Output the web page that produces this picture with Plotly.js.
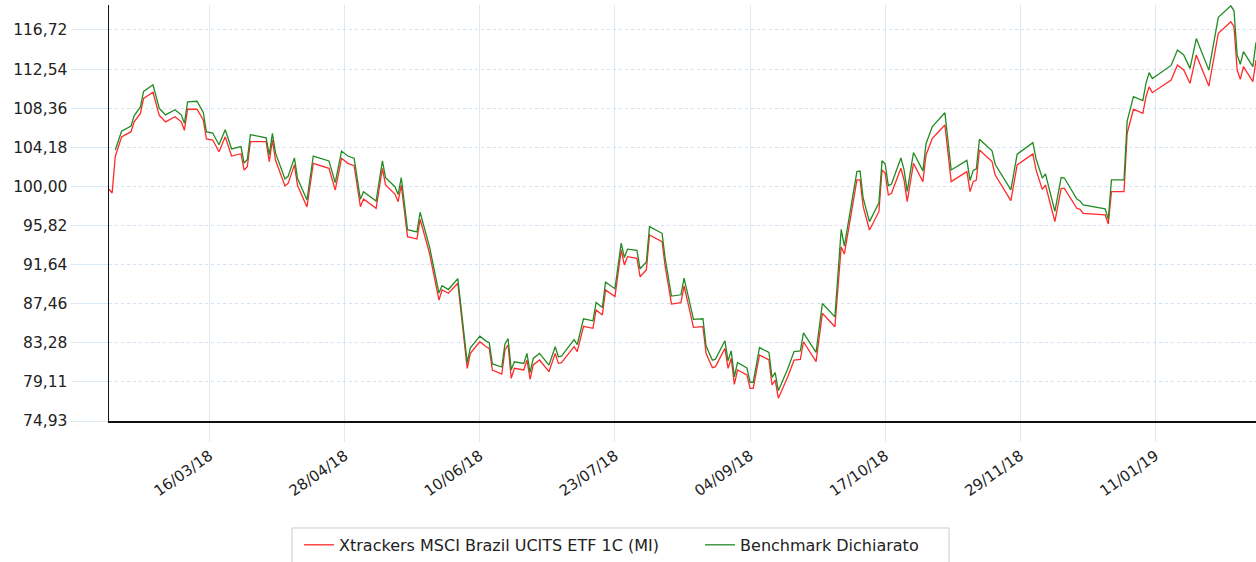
<!DOCTYPE html>
<html>
<head>
<meta charset="utf-8">
<script src="https://cdn.plot.ly/plotly-3.0.1.min.js"></script>
<style>
html,body{margin:0;padding:0;background:#fff;}
#chart{width:1256px;height:562px;}
</style>
</head>
<body>
<div id="chart"></div>
<script>
// ---- data ----
const dates = [
'2018-02-12','2018-02-13','2018-02-14','2018-02-16','2018-02-19','2018-02-20','2018-02-22','2018-02-23','2018-02-26','2018-02-28',
'2018-03-02','2018-03-05','2018-03-07','2018-03-08','2018-03-09','2018-03-12','2018-03-14','2018-03-15','2018-03-17','2018-03-19',
'2018-03-21','2018-03-23','2018-03-26','2018-03-27','2018-03-28','2018-03-29','2018-04-03','2018-04-04','2018-04-05','2018-04-06',
'2018-04-09','2018-04-10','2018-04-12','2018-04-13','2018-04-16','2018-04-18','2018-04-23','2018-04-25','2018-04-27','2018-04-29',
'2018-05-01','2018-05-03','2018-05-04','2018-05-08','2018-05-10','2018-05-11','2018-05-14','2018-05-15','2018-05-16','2018-05-18',
'2018-05-21','2018-05-22','2018-05-25','2018-05-28','2018-05-29','2018-05-31','2018-06-03','2018-06-06','2018-06-07','2018-06-10',
'2018-06-12','2018-06-13','2018-06-14','2018-06-17','2018-06-18','2018-06-19','2018-06-20','2018-06-21','2018-06-24','2018-06-25',
'2018-06-26','2018-06-27','2018-06-29','2018-07-02','2018-07-04','2018-07-05','2018-07-06','2018-07-10','2018-07-11','2018-07-13',
'2018-07-16','2018-07-17','2018-07-19','2018-07-20','2018-07-23','2018-07-25','2018-07-26','2018-07-27','2018-07-30','2018-07-31',
'2018-08-02','2018-08-03','2018-08-07','2018-08-08','2018-08-10','2018-08-13','2018-08-14','2018-08-15','2018-08-17','2018-08-20',
'2018-08-21','2018-08-23','2018-08-24','2018-08-27','2018-08-28','2018-08-29','2018-08-30','2018-08-31','2018-09-03','2018-09-04',
'2018-09-05','2018-09-07','2018-09-10','2018-09-11','2018-09-12','2018-09-13','2018-09-16','2018-09-18','2018-09-20','2018-09-21',
'2018-09-25','2018-09-27','2018-10-01','2018-10-03','2018-10-04','2018-10-08','2018-10-09','2018-10-10','2018-10-12','2018-10-15',
'2018-10-16','2018-10-17','2018-10-18','2018-10-19','2018-10-22','2018-10-23','2018-10-24','2018-10-26','2018-10-29','2018-10-30',
'2018-11-01','2018-11-05','2018-11-07','2018-11-12','2018-11-13','2018-11-14','2018-11-15','2018-11-16','2018-11-20','2018-11-21',
'2018-11-26','2018-11-28','2018-12-03','2018-12-04','2018-12-06','2018-12-07','2018-12-10','2018-12-12','2018-12-13','2018-12-17',
'2018-12-18','2018-12-19','2018-12-26','2018-12-27','2018-12-28','2019-01-01','2019-01-02','2019-01-04','2019-01-07','2019-01-08',
'2019-01-09','2019-01-10','2019-01-14','2019-01-16','2019-01-18','2019-01-20','2019-01-22','2019-01-24','2019-01-28','2019-01-31',
'2019-02-04','2019-02-05','2019-02-06','2019-02-07','2019-02-08','2019-02-11','2019-02-12'
];

const etfValues = [
99.7,99.3,103.2,105.3,105.85,106.9,107.8,109.4,110.06,107.6,
106.9,107.45,106.9,106.0,108.25,108.25,107.1,105.07,104.96,103.7,
105.3,103.25,103.5,101.75,102.1,104.78,104.78,102.65,104.96,102.8,
100.05,100.33,102.3,100.1,97.8,102.47,101.94,99.62,103.0,102.47,
102.22,97.84,98.66,97.66,101.94,100.15,99.19,98.37,100.15,94.63,
94.38,96.49,92.85,87.86,88.93,88.58,89.65,80.56,82.16,83.4,
82.87,82.7,80.38,79.95,82.52,83.05,79.49,80.56,80.38,81.45,
79.39,80.92,81.45,80.2,82.16,81.09,81.16,82.87,82.34,85.05,
84.84,86.8,86.26,88.93,88.22,93.21,91.6,92.49,92.32,90.35,
91.07,94.81,94.09,91.42,87.43,87.57,89.36,87.86,84.94,85.01,
82.16,80.63,80.74,82.7,80.56,81.63,78.85,80.38,79.85,78.42,
78.42,81.98,81.45,78.78,79.31,77.35,79.67,81.45,81.52,83.4,
81.27,86.44,85.01,93.56,92.77,100.69,100.69,97.84,95.34,97.3,
101.76,101.4,99.08,99.26,101.94,100.69,98.37,102.47,100.51,103.36,
105.14,106.57,100.51,101.58,99.44,100.51,100.69,103.9,102.65,101.22,
98.48,102.29,103.47,101.76,99.69,100.15,96.23,99.8,99.8,97.66,
97.55,97.13,96.95,95.98,99.44,99.44,105.68,108.25,107.82,109.59,
110.66,110.02,110.92,111.38,112.98,112.45,111.02,114.05,110.73,116.37,
117.6,117.07,112.45,111.45,112.8,111.2,113.5
];

const benchValues = [
null,null,103.9,105.9,106.45,107.55,108.5,110.15,110.86,108.35,
107.65,108.2,107.65,106.75,109.05,109.1,107.9,105.82,105.71,104.45,
106.05,104.0,104.25,102.5,102.85,105.53,105.2,103.4,105.66,103.55,
100.8,101.08,103.05,100.85,98.55,103.25,102.72,100.4,103.78,103.25,
103.02,98.62,99.44,98.44,102.74,100.93,99.97,99.15,100.95,95.38,
95.13,97.24,93.55,88.6,89.4,88.98,90.15,81.16,82.76,84.0,
83.47,83.3,81.03,80.7,83.17,83.75,80.4,81.26,81.08,82.15,
80.09,81.62,82.15,80.9,82.86,81.79,81.86,83.62,83.09,85.85,
85.64,87.6,87.06,89.78,89.07,93.95,92.4,93.29,93.17,91.2,
91.92,95.71,94.99,92.27,88.28,88.42,90.21,88.71,85.79,85.86,
82.96,81.43,81.54,83.5,81.36,82.43,79.65,81.18,80.6,79.07,
79.07,82.78,82.25,79.58,80.11,78.15,80.52,82.35,82.42,84.35,
82.27,87.49,86.06,95.4,93.63,101.59,101.64,98.74,96.24,98.25,
102.76,102.4,100.08,100.26,103.04,101.79,99.47,103.62,101.66,104.56,
106.39,107.87,101.76,102.78,100.64,101.71,101.89,105.05,103.8,102.37,
99.63,103.44,104.67,102.96,100.89,101.35,97.33,100.95,100.9,98.66,
98.45,98.03,97.6,96.48,100.69,100.69,106.98,109.6,109.17,111.04,
112.16,111.52,112.47,112.93,114.58,114.05,112.62,115.8,112.43,118.07,
119.3,118.77,114.05,113.05,114.4,112.8,115.4
];

const seriesNames = ['Xtrackers MSCI Brazil UCITS ETF 1C (MI)', 'Benchmark Dichiarato'];

const xTickVals = ['2018-03-16','2018-04-28','2018-06-10','2018-07-23','2018-09-04','2018-10-17','2018-11-29','2019-01-11'];
const xTickText = ['16/03/18','28/04/18','10/06/18','23/07/18','04/09/18','17/10/18','29/11/18','11/01/19'];
const yTickVals = [74.93,79.11,83.28,87.46,91.64,95.82,100.00,104.18,108.36,112.54,116.72];
const yTickText = ['74,93','79,11','83,28','87,46','91,64','95,82','100,00','104,18','108,36','112,54','116,72'];

// ---- chart ----
const FONT = 'DejaVu Sans, Verdana, sans-serif';
const traces = [
  {x: dates, y: etfValues, name: seriesNames[0], type: 'scatter', mode: 'lines',
   line: {color: '#ff2a2a', width: 1.3}, connectgaps: false},
  {x: dates, y: benchValues, name: seriesNames[1], type: 'scatter', mode: 'lines',
   line: {color: '#228b22', width: 1.3}, connectgaps: false}
];

const layout = {
  width: 1256, height: 562,
  margin: {l: 109, r: 0, t: 5, b: 141, pad: 0},
  paper_bgcolor: '#ffffff', plot_bgcolor: '#ffffff',
  font: {family: FONT, size: 14, color: '#222'},
  showlegend: true,
  legend: {
    orientation: 'h', x: 0.1657, xanchor: 'left', y: -0.257, yanchor: 'top',
    borderwidth: 0, bgcolor: 'rgba(0,0,0,0)',
    entrywidth: 356, entrywidthmode: 'pixels',
    font: {family: FONT, size: 16, color: '#222'}
  },
  shapes: [{
    type: 'rect', xref: 'paper', yref: 'paper',
    x0: 0.15955, x1: 0.73235, y0: -0.2572, y1: -0.40,
    line: {color: '#cccccc', width: 1}, fillcolor: 'rgba(0,0,0,0)', layer: 'below'
  }],
  xaxis: {
    type: 'date',
    range: ['2018-02-12', '2019-02-12'],
    tickmode: 'array', tickvals: xTickVals, ticktext: xTickText,
    tickangle: -35,
    ticks: 'outside', ticklen: 19, tickcolor: '#dde8f5', tickwidth: 1,
    showgrid: true, gridcolor: '#dde8f5', gridwidth: 1,
    showline: true, linecolor: '#111', linewidth: 1.5,
    zeroline: false, automargin: false,
    tickfont: {family: FONT, size: 15, color: '#222'}
  },
  yaxis: {
    range: [74.93, 119.39],
    tickmode: 'array', tickvals: yTickVals, ticktext: yTickText,
    ticks: 'outside', ticklen: 37, tickcolor: '#dde8f5', tickwidth: 1,
    showgrid: true, gridcolor: '#d3e2f2', gridwidth: 1, griddash: 'dot',
    showline: true, linecolor: '#111', linewidth: 1.5,
    zeroline: false, automargin: false,
    tickfont: {family: FONT, size: 15.5, color: '#222'}
  }
};

Plotly.newPlot('chart', traces, layout, {displayModeBar: false, staticPlot: true});
</script>
</body>
</html>
